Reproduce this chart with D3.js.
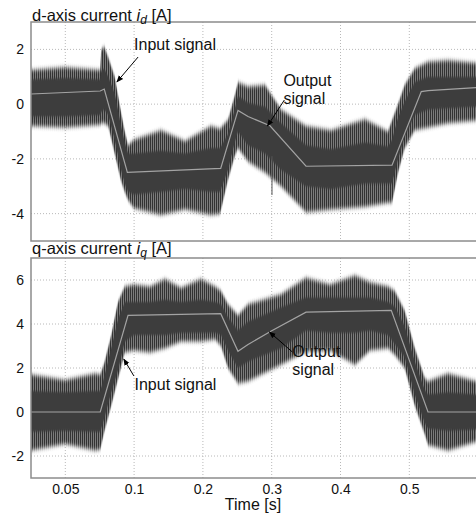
<!DOCTYPE html>
<html>
<head>
<meta charset="utf-8">
<script src="https://cdn.jsdelivr.net/npm/d3@7"></script>
<style>
  html, body { margin: 0; padding: 0; background: #fff; }
  svg { display: block; font-family: "Liberation Sans", Arial, sans-serif; }
</style>
</head>
<body>
<svg id="chart" width="476" height="516"></svg>
<script>
// ---------- data ----------
const xTicks = [0.05, 0.1, 0.2, 0.3, 0.4, 0.5];
const xTickLabels = ["0.05", "0.1", "0.2", "0.3", "0.4", "0.5"];
const dTicks = [-4, -2, 0, 2];
const qTicks = [-2, 0, 2, 4, 6];

// d-axis: input (reference) signal
const dRefTime = [0.0251, 0.0754, 0.0783, 0.0951, 0.2259, 0.251, 0.2656, 0.2975, 0.3499, 0.4749, 0.5174, 0.5272, 0.597];
const dRef     = [0.37, 0.48, 0.55, -2.49, -2.35, -0.23, -0.45, -0.79, -2.27, -2.23, 0.46, 0.49, 0.6];
// d-axis: output signal envelopes (spike tips and dense core)
const dEnvTime  = [0.0251, 0.0498, 0.0754, 0.0761, 0.0783, 0.0812, 0.0859, 0.0905, 0.0932, 0.0956, 0.0999, 0.139, 0.174, 0.2118, 0.2249, 0.2365, 0.2462, 0.251, 0.2656, 0.2903, 0.3135, 0.3499, 0.3862, 0.4356, 0.469, 0.4749, 0.4836, 0.4933, 0.5079, 0.5272, 0.5563, 0.597];
const dOuterTop = [1.25, 1.35, 1.25, 2.0, 2.1, 1.7, 1.0, -0.3, -1.0, -1.5, -1.3, -0.95, -1.35, -0.8, -0.9, -0.57, 0.3, 0.8, 0.64, 0.7, -0.2, -0.8, -0.95, -0.55, -1.0, -0.6, 0.0, 0.7, 1.3, 1.55, 1.6, 1.5];
const dCoreTop  = [0.9, 0.95, 0.9, 1.2, 1.3, 1.0, 0.4, -0.8, -1.4, -1.8, -1.8, -1.7, -1.8, -1.6, -1.6, -1.1, -0.2, 0.3, 0.05, -0.1, -0.7, -1.5, -1.65, -1.4, -1.55, -1.3, -0.5, 0.1, 0.8, 1.0, 1.0, 1.0];
const dCoreBot  = [-0.45, -0.45, -0.4, -0.3, -0.2, -0.4, -1.3, -2.4, -2.9, -3.2, -3.3, -3.2, -3.1, -3.2, -3.2, -2.4, -1.4, -1.0, -1.5, -1.8, -2.4, -3.0, -3.1, -2.9, -2.9, -2.9, -2.0, -1.2, -0.4, -0.2, -0.15, -0.1];
const dOuterBot = [-0.8, -0.85, -0.75, -0.7, -0.7, -0.8, -1.8, -2.8, -3.2, -3.5, -3.8, -4.05, -3.85, -4.05, -4.0, -2.75, -1.9, -1.6, -2.1, -2.5, -3.0, -3.95, -3.85, -3.75, -3.6, -3.6, -2.5, -1.6, -0.95, -0.85, -0.7, -0.6];
// d-axis: isolated long spike of the output signal
const dGlitchTime = [0.3004];
const dGlitchTop  = [-1.9];
const dGlitchBot  = [-3.32];

// q-axis: input (reference) signal
const qRefTime = [0.0251, 0.0754, 0.0956, 0.2259, 0.251, 0.2656, 0.2994, 0.3499, 0.4738, 0.5272, 0.597];
const qRef     = [0, 0, 4.39, 4.47, 2.76, 3.07, 3.68, 4.54, 4.62, 0, 0];
// q-axis: output signal envelopes
const qEnvTime  = [0.0251, 0.0498, 0.0716, 0.0754, 0.0783, 0.0834, 0.0883, 0.0932, 0.0999, 0.1231, 0.1449, 0.1682, 0.1972, 0.2176, 0.2263, 0.2365, 0.251, 0.2656, 0.3135, 0.3499, 0.3847, 0.4211, 0.4429, 0.469, 0.4788, 0.4933, 0.5079, 0.5224, 0.5272, 0.5563, 0.597];
const qOuterTop = [1.7, 1.45, 1.75, 1.7, 2.2, 3.5, 5.0, 5.7, 5.8, 5.7, 6.05, 5.65, 6.05, 5.7, 5.5, 4.9, 4.4, 4.9, 5.35, 6.1, 5.8, 6.2, 5.9, 5.7, 5.5, 4.6, 2.9, 1.55, 1.4, 1.75, 1.4];
const qCoreTop  = [0.95, 0.9, 0.95, 0.95, 1.6, 2.9, 4.2, 5.0, 5.0, 5.0, 5.1, 5.0, 5.1, 5.0, 4.9, 4.3, 3.7, 4.1, 4.75, 5.2, 5.2, 5.2, 5.2, 5.0, 4.8, 3.9, 2.3, 1.0, 0.8, 0.9, 0.8];
const qCoreBot  = [-0.9, -0.85, -0.9, -0.9, -0.3, 0.9, 1.9, 3.2, 3.5, 3.5, 3.5, 3.6, 3.6, 3.6, 3.5, 2.8, 2.0, 2.3, 2.9, 3.7, 3.6, 3.6, 3.7, 3.5, 3.1, 2.5, 0.8, -0.5, -0.75, -0.85, -0.8];
const qOuterBot = [-1.75, -1.45, -1.75, -1.7, -0.9, 0.3, 1.5, 2.7, 2.8, 2.7, 2.9, 3.2, 3.2, 3.3, 3.0, 2.0, 1.3, 1.4, 2.15, 2.75, 2.8, 2.15, 2.8, 2.9, 2.6, 2.0, 0.3, -1.0, -1.5, -1.75, -1.35];

// annotations (data coordinates: time, value)
const dAnnotations = [
  { lines: ["Input signal"], tx: 0.1, ty: 1.98, from: [0.1058, 1.72], to: [0.0875, 0.81] },
  { lines: ["Output", "signal"], tx: 0.317, ty: 0.66, from: [0.3184, 0.15], to: [0.2938, -0.8] }
];
const qAnnotations = [
  { lines: ["Input signal"], tx: 0.1006, ty: 1.0, from: [0.0998, 1.64], to: [0.0925, 2.41] },
  { lines: ["Output", "signal"], tx: 0.33, ty: 2.5, from: [0.33, 2.73], to: [0.2966, 3.64] }
];

// ---------- layout ----------
const plotLeft = 31, plotRight = 480;
const firstTickX = 65.3, tickStep = 68.8;
const panels = [
  { title: "d-axis current ", sub: "d", top: 22, bottom: 241, domain: [-5, 3], ticks: dTicks,
    refT: dRefTime, ref: dRef, envT: dEnvTime, oT: dOuterTop, cT: dCoreTop, cB: dCoreBot, oB: dOuterBot,
    gT: dGlitchTime, gTop: dGlitchTop, gBot: dGlitchBot,
    ann: dAnnotations, titleY: 20.5 },
  { title: "q-axis current ", sub: "q", top: 258, bottom: 478, domain: [-3, 7], ticks: qTicks,
    refT: qRefTime, ref: qRef, envT: qEnvTime, oT: qOuterTop, cT: qCoreTop, cB: qCoreBot, oB: qOuterBot,
    gT: [], gTop: [], gBot: [],
    ann: qAnnotations, titleY: 253.5 }
];

const svg = d3.select("#chart");

// x scale: piecewise linear, ticks equally spaced
const x = d3.scaleLinear()
  .domain(xTicks)
  .range(xTicks.map((d, i) => firstTickX + i * tickStep));

const defs = svg.append("defs");
const pat = defs.append("pattern")
  .attr("id", "spikes").attr("patternUnits", "userSpaceOnUse")
  .attr("width", 2).attr("height", 6);
pat.append("rect").attr("x", 0).attr("y", 0).attr("width", 2).attr("height", 6).attr("fill", "#8d8d8d");
pat.append("rect").attr("x", 0).attr("y", 0).attr("width", 1.2).attr("height", 6).attr("fill", "#333");

const filt = defs.append("filter").attr("id", "vblur")
  .attr("x", "-5%").attr("y", "-20%").attr("width", "110%").attr("height", "140%");
filt.append("feGaussianBlur").attr("stdDeviation", "0 2.2");

const filt2 = defs.append("filter").attr("id", "vblur2")
  .attr("x", "-5%").attr("y", "-20%").attr("width", "110%").attr("height", "140%");
filt2.append("feGaussianBlur").attr("stdDeviation", "0 1.2");

const marker = defs.append("marker")
  .attr("id", "arrow").attr("viewBox", "0 0 10 10")
  .attr("refX", 9).attr("refY", 5)
  .attr("markerWidth", 7).attr("markerHeight", 7)
  .attr("markerUnits", "userSpaceOnUse")
  .attr("orient", "auto");
marker.append("path").attr("d", "M0,1 L10,5 L0,9 Z").attr("fill", "#000");

panels.forEach((p, pi) => {
  const y = d3.scaleLinear().domain(p.domain).range([p.bottom, p.top]);
  const g = svg.append("g");

  const clipId = "clip" + pi;
  defs.append("clipPath").attr("id", clipId)
    .append("rect").attr("x", plotLeft).attr("y", p.top)
    .attr("width", plotRight - plotLeft).attr("height", p.bottom - p.top);

  // grid
  const grid = g.append("g");
  grid.selectAll("line.v").data(xTicks).join("line")
    .attr("x1", d => x(d)).attr("x2", d => x(d))
    .attr("y1", p.top).attr("y2", p.bottom)
    .attr("stroke", "#b8b8b8").attr("stroke-width", 1).attr("stroke-dasharray", "1,2");
  grid.selectAll("line.h").data(p.ticks).join("line")
    .attr("x1", plotLeft).attr("x2", plotRight)
    .attr("y1", d => y(d)).attr("y2", d => y(d))
    .attr("stroke", "#b8b8b8").attr("stroke-width", 1).attr("stroke-dasharray", "1,2");

  const plot = g.append("g").attr("clip-path", `url(#${clipId})`);

  const env = p.envT.map((t, i) => ({ t, oT: p.oT[i], cT: p.cT[i], cB: p.cB[i], oB: p.oB[i] }));
  const outerArea = d3.area().x(d => x(d.t)).y0(d => y(d.oB)).y1(d => y(d.oT));
  const coreArea = d3.area().x(d => x(d.t)).y0(d => y(d.cB)).y1(d => y(d.cT));

  const bands = plot.append("g");
  bands.append("path").datum(env).attr("d", outerArea).attr("fill", "url(#spikes)")
    .attr("filter", "url(#vblur)");
  bands.append("path").datum(env).attr("d", coreArea).attr("fill", "#3c3c3c")
    .attr("filter", "url(#vblur2)");

  const glitches = p.gT.map((t, i) => ({ t, a: p.gTop[i], b: p.gBot[i] }));
  plot.selectAll("line.glitch").data(glitches).join("line")
    .attr("x1", d => x(d.t)).attr("x2", d => x(d.t))
    .attr("y1", d => y(d.a)).attr("y2", d => y(d.b))
    .attr("stroke", "#555").attr("stroke-width", 1);

  const refData = p.refT.map((t, i) => ({ t, v: p.ref[i] }));
  plot.append("path").datum(refData)
    .attr("d", d3.line().x(d => x(d.t)).y(d => y(d.v)))
    .attr("fill", "none").attr("stroke", "#a4a4a4").attr("stroke-width", 1.2);

  // frame
  g.append("rect").attr("x", plotLeft).attr("y", p.top)
    .attr("width", plotRight - plotLeft).attr("height", p.bottom - p.top)
    .attr("fill", "none").attr("stroke", "#8c8c8c").attr("stroke-width", 1.5);

  // y axis labels
  const yAxis = d3.axisLeft(y).tickValues(p.ticks).tickSize(0).tickPadding(7).tickFormat(d => String(d));
  const ya = g.append("g").attr("transform", `translate(${plotLeft},0)`).call(yAxis);
  ya.select(".domain").remove();
  ya.selectAll("text").attr("font-size", 14).attr("fill", "#111")
    .attr("font-family", "Liberation Sans, Arial, sans-serif");

  // title
  const title = g.append("text").attr("x", plotLeft + 1).attr("y", p.titleY)
    .attr("font-size", 16.5).attr("fill", "#111");
  title.append("tspan").text(p.title);
  title.append("tspan").attr("font-style", "italic").text("i");
  title.append("tspan").attr("font-style", "italic").attr("font-size", 12).attr("dy", 3).text(p.sub);
  title.append("tspan").attr("dy", -3).text(" [A]");

  // annotations
  p.ann.forEach(a => {
    g.append("line")
      .attr("x1", x(a.from[0])).attr("y1", y(a.from[1]))
      .attr("x2", x(a.to[0])).attr("y2", y(a.to[1]))
      .attr("stroke", "#000").attr("stroke-width", 1)
      .attr("marker-end", "url(#arrow)");
    const t = g.append("text").attr("x", x(a.tx)).attr("y", y(a.ty))
      .attr("font-size", 16).attr("fill", "#111");
    a.lines.forEach((ln, i) => {
      t.append("tspan").attr("x", x(a.tx)).attr("dy", i === 0 ? 0 : 18).text(ln);
    });
  });

  // x axis on bottom panel
  if (pi === 1) {
    const xAxis = d3.axisBottom(x).tickValues(xTicks).tickSize(0).tickPadding(6)
      .tickFormat((d, i) => xTickLabels[i]);
    const xa = g.append("g").attr("transform", `translate(0,${p.bottom})`).call(xAxis);
    xa.select(".domain").remove();
    xa.selectAll("text").attr("font-size", 14).attr("fill", "#111")
      .attr("font-family", "Liberation Sans, Arial, sans-serif");
    g.append("text").attr("x", 253).attr("y", 510).attr("text-anchor", "middle")
      .attr("font-size", 16).attr("fill", "#111").text("Time [s]");
  }
});
</script>
</body>
</html>
